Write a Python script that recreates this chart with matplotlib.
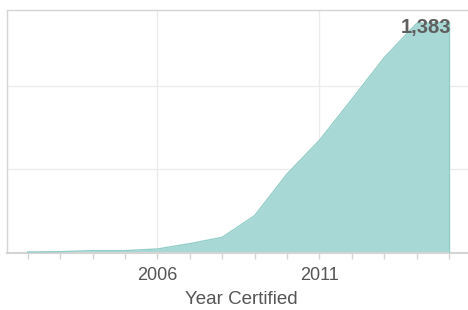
import matplotlib

matplotlib.use("Agg")
import matplotlib.pyplot as plt  # noqa: E402
from matplotlib.ticker import MultipleLocator, FixedLocator  # noqa: E402

plt.rcParams["font.family"] = ["Liberation Sans", "DejaVu Sans"]

# cumulative certifications by year
years = [2002, 2003, 2004, 2005, 2006, 2007, 2008, 2009, 2010, 2011,
         2012, 2013, 2014, 2015]
counts = [4, 6, 12, 12, 22, 54, 92, 222, 472, 674, 920, 1170, 1375, 1383]
major_years = [2006, 2011]
grid_values = [500, 1000]

TEXT = "#555555"
AXIS = "#d4d4d4"

fig = plt.figure(figsize=(4.68, 3.10), dpi=100)
ax = fig.add_axes([0.015, 0.185, 1.0, 0.783])

ax.fill_between(years, 0, counts, color="#a8d8d5", lw=0, zorder=2)
ax.plot(years, counts, color="#92cec8", lw=1.0, zorder=3)
ax.plot([years[-1], years[-1]], [0, counts[-1]], color="#92cec8", lw=1.0, zorder=3)

ax.set_xlim(2001.36, 2015.8)
ax.set_ylim(0, 1456)

ax.xaxis.set_major_locator(FixedLocator(major_years))
ax.xaxis.set_minor_locator(MultipleLocator(1))
ax.yaxis.set_major_locator(FixedLocator(grid_values))
ax.set_yticklabels([])
ax.tick_params(axis="y", length=0)
ax.tick_params(axis="x", which="both", length=4, width=1, color=AXIS,
               labelsize=13, labelcolor=TEXT, pad=6.5)
ax.grid(True, which="major", color="#ececec", lw=1, zorder=0)

for side in ("left", "top"):
    ax.spines[side].set_color(AXIS)
    ax.spines[side].set_linewidth(1)
ax.spines["right"].set_visible(False)
ax.spines["bottom"].set_color(AXIS)
ax.spines["bottom"].set_linewidth(1.5)

ax.set_xlabel("Year Certified", fontsize=13.5, color=TEXT, labelpad=5)

ax.annotate(f"{counts[-1]:,}", xy=(years[-1], counts[-1]), xytext=(1.5, 3),
            textcoords="offset points", ha="right", va="top",
            fontsize=14.5, fontweight="bold", color="#5f5f5f", zorder=4)

fig.savefig("out.png", dpi=100)
